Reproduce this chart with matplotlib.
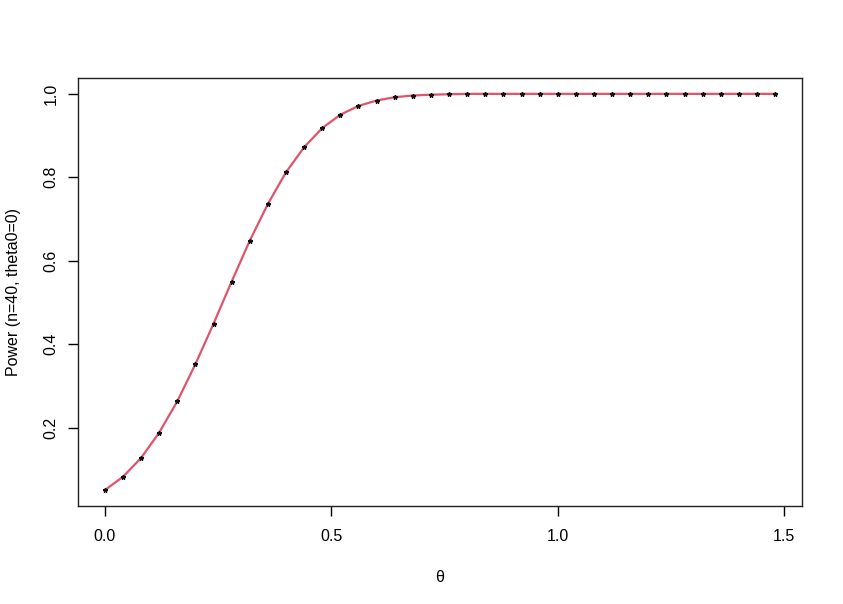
import matplotlib
matplotlib.use("Agg")
import matplotlib.pyplot as plt

theta = [0.00, 0.04, 0.08, 0.12, 0.16, 0.20, 0.24, 0.28, 0.32, 0.36,
         0.40, 0.44, 0.48, 0.52, 0.56, 0.60, 0.64, 0.68, 0.72, 0.76,
         0.80, 0.84, 0.88, 0.92, 0.96, 1.00, 1.04, 1.08, 1.12, 1.16,
         1.20, 1.24, 1.28, 1.32, 1.36, 1.40, 1.44, 1.48]
power = [0.050, 0.082, 0.127, 0.188, 0.263, 0.352, 0.449, 0.550, 0.648, 0.736,
         0.812, 0.872, 0.918, 0.950, 0.971, 0.984, 0.992, 0.996, 0.998, 0.999,
         1.000, 1.000, 1.000, 1.000, 1.000, 1.000, 1.000, 1.000, 1.000, 1.000,
         1.000, 1.000, 1.000, 1.000, 1.000, 1.000, 1.000, 1.000]
xticks = [0.0, 0.5, 1.0, 1.5]
yticks = [0.2, 0.4, 0.6, 0.8, 1.0]

plt.rcParams['font.family'] = ['Liberation Sans', 'DejaVu Sans']
fig = plt.figure(figsize=(8.43, 6.04), dpi=100)
ax = fig.add_axes([78/843, 98/604, 724/843, 428/604])

ax.plot(theta, power, color='#DF536B', lw=1.6, zorder=2)
ax.plot(theta, power, ls='none', marker='*', ms=3.3, color='#111111', zorder=3)

xr = max(theta) - min(theta)
yr = max(power) - min(power)
ax.set_xlim(min(theta) - 0.04 * xr, max(theta) + 0.04 * xr)
ax.set_ylim(min(power) - 0.04 * yr, max(power) + 0.04 * yr)
ax.set_xticks(xticks)
ax.set_xticklabels([f"{v:.1f}" for v in xticks])
ax.set_yticks(yticks)
ax.set_yticklabels([f"{v:.1f}" for v in yticks], rotation=90, va='center')
ax.tick_params(direction='out', length=7, width=1, labelsize=11.5)
ax.tick_params(axis='x', pad=9.5)
ax.tick_params(axis='y', pad=7)
for s in ax.spines.values():
    s.set_linewidth(1)
    s.set_color('#222222')
ax.set_xlabel('θ', fontsize=11.5, labelpad=19)
ax.set_ylabel('Power (n=40, theta0=0)', fontsize=11.5, labelpad=16)

fig.savefig('out.png', dpi=100)
